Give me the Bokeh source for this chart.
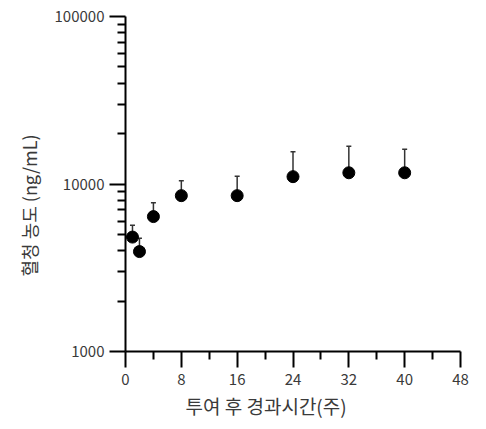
from bokeh.plotting import figure
from bokeh.models import (Range1d, FixedTicker, PrintfTickFormatter, Whisker,
                          TeeHead, ColumnDataSource, Title)
from bokeh.embed import file_html
from bokeh.resources import INLINE

# data
weeks = [1, 2, 4, 8, 16, 24, 32, 40]
conc = [4820, 3950, 6390, 8520, 8520, 11060, 11670, 11670]
conc_upper = [5680, 4750, 7740, 10470, 11110, 15570, 16830, 16150]

x_ticks = [0, 8, 16, 24, 32, 40, 48]
x_minor = [4, 12, 20, 28, 36, 44]
y_ticks = [1000, 10000, 100000]
y_minor = [m * d for d in (1000, 10000) for m in range(2, 10)]

x_label = "투여 후 경과시간(주)"
y_label = "혈청 농도 (ng/mL)"

FONT = "Noto Sans CJK KR"
TXT = "#3a3a3a"

p = figure(width=478, height=421, y_axis_type="log", output_backend="svg",
           toolbar_location=None, min_border_left=125, min_border_right=18,
           min_border_top=16, min_border_bottom=69)
p.x_range = Range1d(0, 48)
p.y_range = Range1d(1000, 100000)
p.outline_line_color = None
p.xgrid.visible = False
p.ygrid.visible = False
p.background_fill_color = "white"
p.border_fill_color = "white"

src = ColumnDataSource(dict(x=weeks, y=conc, up=conc_upper))

w = Whisker(base="x", lower="y", upper="up", source=src, dimension="height",
            line_color="#333333", line_width=1.5,
            upper_head=TeeHead(size=5, line_color="#333333", line_width=1.5),
            lower_head=None)
p.add_layout(w)
p.scatter("x", "y", source=src, size=12, color="black", marker="circle")

for ax in (p.xaxis[0], p.yaxis[0]):
    ax.axis_line_width = 2
    ax.axis_line_color = "black"
    ax.major_tick_line_width = 2
    ax.minor_tick_line_width = 2
    ax.major_tick_line_color = "black"
    ax.minor_tick_line_color = "black"
    ax.major_tick_in = 0
    ax.major_tick_out = 16
    ax.minor_tick_in = 0
    ax.minor_tick_out = 8
    ax.major_label_text_font = FONT
    ax.major_label_text_font_size = "15px"
    ax.major_label_text_color = TXT

p.xaxis[0].ticker = FixedTicker(ticks=x_ticks, minor_ticks=x_minor)
p.yaxis[0].ticker = FixedTicker(ticks=y_ticks, minor_ticks=y_minor)
p.yaxis[0].formatter = PrintfTickFormatter(format="%d")
p.xaxis[0].major_label_standoff = 6
p.yaxis[0].major_label_standoff = 5

p.add_layout(Title(text=x_label, align="left", offset=60, text_font=FONT,
                   text_font_size="19px", text_font_style="normal",
                   text_color=TXT, standoff=5), "below")
p.add_layout(Title(text=y_label, align="left", offset=75, text_font=FONT,
                   text_font_size="18px", text_font_style="normal",
                   text_color=TXT, standoff=20), "left")

open("out.html", "w").write(file_html(p, INLINE))
